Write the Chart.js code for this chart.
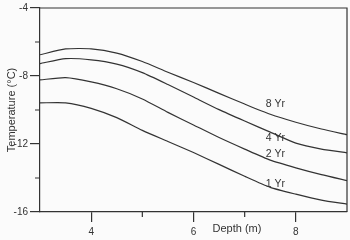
<!DOCTYPE html>
<html>
<head>
<meta charset="utf-8">
<script src="https://cdn.jsdelivr.net/npm/chart.js@4/dist/chart.umd.min.js"></script>
<style>
  html, body { margin: 0; padding: 0; background: #fbfbfb; }
  #wrap { width: 350px; height: 240px; }
</style>
</head>
<body>
<div id="wrap"><canvas id="tempChart"></canvas></div>
<script>
// depth (m) where readings were taken
let depths = [3, 3.5, 4, 4.5, 5, 5.5, 6, 6.5, 7, 7.5, 8, 8.5, 9];
// temperature (C) for each curve
let temp8yr = [-6.75, -6.41, -6.40, -6.65, -7.15, -7.78, -8.38, -9.02, -9.65, -10.25, -10.72, -11.12, -11.45];
let temp4yr = [-7.27, -6.98, -7.05, -7.30, -7.80, -8.50, -9.24, -9.98, -10.65, -11.30, -11.95, -12.30, -12.52];
let temp2yr = [-8.23, -8.10, -8.35, -8.75, -9.35, -10.14, -10.88, -11.62, -12.30, -12.95, -13.40, -13.80, -14.15];
let temp1yr = [-9.58, -9.58, -9.90, -10.45, -11.20, -11.85, -12.50, -13.20, -13.90, -14.55, -14.95, -15.30, -15.54];
let seriesNames = ["8 Yr", "4 Yr", "2 Yr", "1 Yr"];
// where the curve labels sit (depth, temperature)
let labelDepth = 7.6;
let labelTemps = [-9.65, -11.67, -12.6, -14.33];
// tick labels
let xTicks = [4, 6, 8];
let xMinor = [5, 7];
let yTicks = [-16, -12, -8, -4];
let yMinor = [-14, -10, -6];

let ink = "#333";
let allTemps = [temp8yr, temp4yr, temp2yr, temp1yr];

let makeSet = (name, vals) => {
  return {
    label: name,
    data: depths.map((d, i) => ({ x: d, y: vals[i] })),
    borderColor: ink,
    borderWidth: 1.2,
    pointRadius: 0,
    tension: 0.2,
    fill: false
  };
};

// draws box, minor ticks, axis titles and curve labels
let extras = {
  id: "extras",
  afterDraw: function (chart) {
    let ctx = chart.ctx;
    let a = chart.chartArea;
    let xs = chart.scales.x;
    let ys = chart.scales.y;
    ctx.save();
    ctx.strokeStyle = ink;
    ctx.lineWidth = 1.2;
    ctx.beginPath();
    ctx.moveTo(a.left, a.top);
    ctx.lineTo(a.right, a.top);
    ctx.lineTo(a.right, a.bottom);
    ctx.stroke();
    ctx.beginPath();
    xMinor.forEach(v => {
      let px = xs.getPixelForValue(v);
      ctx.moveTo(px, a.bottom);
      ctx.lineTo(px, a.bottom + 5);
    });
    yMinor.forEach(v => {
      let py = ys.getPixelForValue(v);
      ctx.moveTo(a.left, py);
      ctx.lineTo(a.left - 5, py);
    });
    ctx.stroke();

    ctx.fillStyle = ink;
    ctx.font = "11px 'Liberation Sans', Arial, sans-serif";
    ctx.textAlign = "center";
    ctx.textBaseline = "middle";
    ctx.fillText("Depth (m)", 237, 229);
    ctx.save();
    ctx.translate(12, 110);
    ctx.rotate(-Math.PI / 2);
    ctx.fillText("Temperature (\u00B0C)", 0, 0);
    ctx.restore();

    ctx.font = "10.5px 'Liberation Sans', Arial, sans-serif";
    seriesNames.forEach((n, i) => {
      ctx.fillText(n, xs.getPixelForValue(labelDepth), ys.getPixelForValue(labelTemps[i]));
    });
    ctx.restore();
  }
};

let chartCtx = document.getElementById("tempChart").getContext("2d");
new Chart(chartCtx, {
  type: "line",
  data: {
    datasets: seriesNames.map((n, i) => makeSet(n, allTemps[i]))
  },
  options: {
    responsive: true,
    maintainAspectRatio: false,
    animation: false,
    layout: { padding: { top: 4, right: 3, left: 0, bottom: 0 } },
    plugins: {
      legend: { display: false },
      tooltip: { enabled: false }
    },
    scales: {
      x: {
        type: "linear",
        min: 3,
        max: 9,
        afterBuildTicks: s => { s.ticks = xTicks.map(v => ({ value: v })); },
        afterFit: s => { s.height = 28; },
        grid: { drawOnChartArea: false, drawTicks: true, tickLength: 10, color: ink, lineWidth: 1.2 },
        border: { color: ink, width: 1.2 },
        ticks: {
          color: ink,
          font: { size: 10, family: "'Liberation Sans', Arial, sans-serif" },
          padding: 4,
          maxRotation: 0
        }
      },
      y: {
        min: -16,
        max: -4,
        afterBuildTicks: s => { s.ticks = yTicks.map(v => ({ value: v })); },
        afterFit: s => { s.width = 40; },
        grid: { drawOnChartArea: false, drawTicks: true, tickLength: 10, color: ink, lineWidth: 1.2 },
        border: { color: ink, width: 1.2 },
        ticks: {
          color: ink,
          font: { size: 10, family: "'Liberation Sans', Arial, sans-serif" },
          padding: 2
        }
      }
    }
  },
  plugins: [extras]
});
</script>
</body>
</html>
